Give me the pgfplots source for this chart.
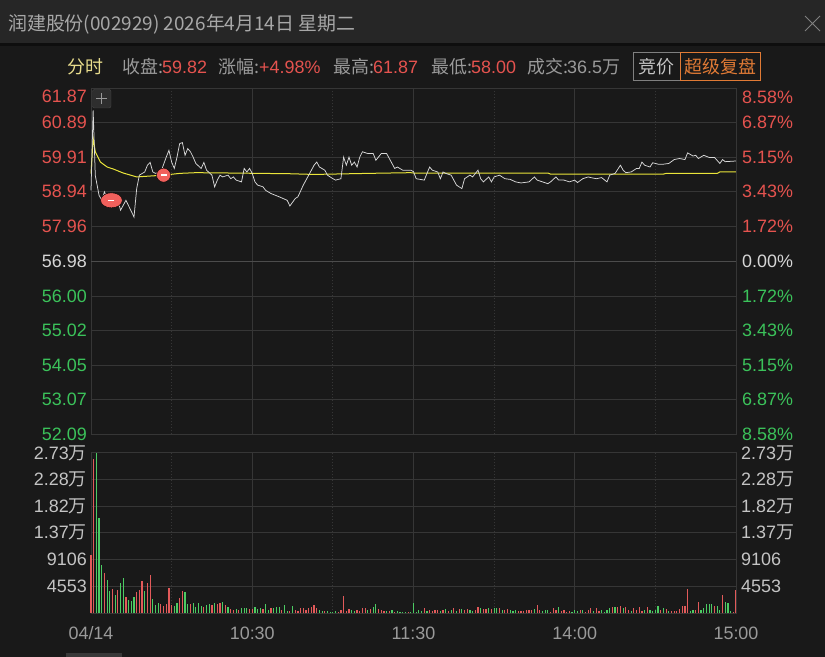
\documentclass[border=0pt]{standalone}
\usepackage{pgfplots}
\pgfplotsset{compat=1.18}
\usepackage{fontspec}
\setmainfont{Liberation Sans}
\newfontfamily\cjk{Noto Sans CJK SC}
\definecolor{bg}{HTML}{191919}
\definecolor{titlebg}{HTML}{262626}
\definecolor{sepc}{HTML}{0E0E0E}
\definecolor{gridc}{HTML}{363636}
\definecolor{gridb}{HTML}{4C4C4C}
\definecolor{upred}{HTML}{E5534F}
\definecolor{dngreen}{HTML}{3BC25A}
\definecolor{neutral}{HTML}{D6D6D6}
\definecolor{txtgray}{HTML}{9A9A9A}
\definecolor{titlegray}{HTML}{A8A8A8}
\definecolor{volgray}{HTML}{C4C4C4}
\definecolor{pricew}{HTML}{D8D8D8}
\definecolor{avgy}{HTML}{EAE53A}
\definecolor{barred}{HTML}{E25A5A}
\definecolor{bargreen}{HTML}{4CCB63}
\definecolor{fenshi}{HTML}{E8DC8C}
\definecolor{orangec}{HTML}{E07A35}
\definecolor{boxgray}{HTML}{808080}
\definecolor{mkred}{HTML}{F0605C}
\newcommand\fs{\fontsize{18}{20}\selectfont}
\newcommand\wan{{\cjk 万}}
\pgfplotsset{
  base/.style={scale only axis, width=645bp, xmin=0, xmax=240,
    axis line style={draw=gridc, line width=0.8bp},
    major tick length=0pt, tick style={draw=none},
    ticklabel style={font=\fs},
    scaled y ticks=false, scaled x ticks=false,
    grid style={draw=gridc, line width=0.8bp},
    clip=false},
  dots/.style={grid style={draw=gridc, line width=0.8bp, dash pattern=on 1bp off 2bp}},
}
\begin{document}
\begin{tikzpicture}
\fill[bg] (0bp,0bp) rectangle (825bp,657bp);
\useasboundingbox (0bp,0bp) rectangle (825bp,657bp);
\fill[titlebg] (0bp,614bp) rectangle (825bp,657bp);
\fill[sepc] (0bp,611bp) rectangle (825bp,614bp);
\node[anchor=west, inner sep=0pt, text=titlegray] at (8bp,633bp) {\cjk\fontsize{19}{21}\selectfont 润建股份(002929) 2026年4月14日 星期二};
\draw[boxgray, line width=1bp] (805bp,641bp) -- (820bp,626bp) (805bp,626bp) -- (820bp,641bp);
% header row
\begin{scope}[every node/.style={anchor=west, inner sep=0pt, font=\fs}]
\node[text=fenshi] at (67bp,590bp) {\cjk 分时};
\node[text=txtgray] at (122bp,590bp) {\cjk 收盘:};
\node[text=upred] at (162bp,590bp) {59.82};
\node[text=txtgray] at (218bp,590bp) {\cjk 涨幅:};
\node[text=upred] at (259bp,590bp) {+4.98\%};
\node[text=txtgray] at (333bp,590bp) {\cjk 最高:};
\node[text=upred] at (373bp,590bp) {61.87};
\node[text=txtgray] at (431bp,590bp) {\cjk 最低:};
\node[text=upred] at (471bp,590bp) {58.00};
\node[text=txtgray] at (527bp,590bp) {\cjk 成交:};
\node[text=txtgray] at (567bp,590bp) {36.5\wan};
\end{scope}
\draw[boxgray, line width=0.9bp] (633bp,577bp) rectangle (680bp,604.5bp);
\node[text=volgray, inner sep=0pt, font=\fs] at (656.5bp,590.5bp) {\cjk 竞价};
\draw[orangec, line width=0.9bp] (680bp,577bp) rectangle (760.5bp,604.5bp);
\node[text=orangec, inner sep=0pt, font=\fs] at (720.3bp,590.5bp) {\cjk 超级复盘};
% scrollbar
\fill[black!78] (66bp,0bp) rectangle (122bp,3.5bp);

% ===== price panel (left labels) =====
\begin{axis}[base, at={(91bp,222.5bp)}, anchor=south west, height=346.5bp,
  ymin=52.09, ymax=61.87,
  xtick={60,120,180}, xticklabels={},
  extra x ticks={30,90,150,210}, extra x tick labels={}, extra x tick style={dots},
  xmajorgrids, ymajorgrids,
  ytick={52.09,53.07,54.05,55.02,56.00,56.98,57.96,58.94,59.91,60.89},
  yticklabels={\textcolor{dngreen}{52.09},\textcolor{dngreen}{53.07},\textcolor{dngreen}{54.05},\textcolor{dngreen}{55.02},\textcolor{dngreen}{56.00},\textcolor{neutral}{56.98},\textcolor{upred}{57.96},\textcolor{upred}{58.94},\textcolor{upred}{59.91},\textcolor{upred}{60.89}},
  yticklabel style={inner sep=4bp},
  extra y ticks={61.87}, extra y tick labels={\textcolor{upred}{61.87}},
  extra y tick style={yticklabel style={yshift=-8.5bp}},
]
\addplot[gridb, line width=1bp] coordinates {(0,56.98) (240,56.98)};
\addplot[avgy, line width=1bp] coordinates {
(0,59.45) (0.8,60.45) (1.6,60.07) (3.5,59.78) (6,59.64) (8.4,59.58) (12,59.47) (17,59.36) (21,59.38) (27,59.41) (33,59.46) (39,59.48) (52,59.47) (74,59.45) (83,59.43) (103,59.46) (119,59.48) (120,59.47) (170,59.47) (171,59.44) (213,59.44) (214,59.46) (233,59.46) (234,59.50) (240,59.50)};
\addplot[pricew, line width=0.75bp] coordinates {
(0,58.98) (0.8,61.24) (1.6,59.40) (3,58.84) (4,58.70) (5,58.94) (6,58.75) (8,58.70) (10,58.70) (11,58.42) (12,58.56) (13,58.70) (16,58.23) (17,59.03) (18,59.41) (20,59.50) (21,59.69) (22,59.77) (23,59.50) (24,59.46) (26,59.50) (28,59.92) (29,60.11) (30,59.78) (31,59.60) (32,59.92) (33,60.30) (34,60.33) (35,59.97) (36,60.16) (37,60.07) (38,59.92) (39,59.74) (41,59.60) (42,59.77) (43,59.55) (45,59.41) (46,59.08) (47,59.27) (48,59.41) (49,59.36) (51,59.41) (52,59.31) (53,59.36) (54,59.27) (56,59.22) (57,59.60) (58,59.50) (59,59.60) (60,59.46) (61,59.22) (62,59.13) (64,59.08) (65,58.98) (67,58.89) (70,58.80) (73,58.70) (74,58.54) (76,58.75) (77,58.80) (79,59.13) (81,59.41) (83,59.69) (84,59.78) (85,59.64) (87,59.55) (88,59.41) (90,59.31) (91,59.27) (93,59.31) (94,59.92) (95,59.69) (96,59.92) (97,59.69) (98,59.78) (99,59.64) (100,59.92) (101,60.07) (103,60.02) (105,60.02) (106,59.83) (108,60.02) (110,60.02) (111,59.88) (112,59.74) (113,59.60) (114,59.64) (116,59.55) (119,59.55) (120,59.51)
(121,59.31) (124,59.27) (126,59.64) (127,59.55) (129,59.50) (130,59.31) (131,59.50) (132,59.46) (134,59.41) (136,59.13) (138,59.03) (139,59.31) (141,59.41) (142,59.36) (144,59.55) (145,59.31) (146,59.22) (148,59.36) (149,59.22) (150,59.36) (152,59.41) (154,59.31) (156,59.29) (158,59.22) (160,59.19) (163,59.22) (165,59.36) (166,59.27) (168,59.22) (170,59.17) (171,59.22) (173,59.36) (174,59.27) (176,59.27) (178,59.22) (180,59.27) (181,59.20) (183,59.31) (185,59.36) (186,59.34) (188,59.31) (190,59.34) (192,59.22) (193,59.41) (195,59.46) (197,59.69) (198,59.55) (199,59.48) (201,59.50) (203,59.60) (204,59.60) (205,59.78) (206,59.69) (208,59.64) (209,59.76) (211,59.72) (213,59.72) (215,59.74) (217,59.85) (219,59.88) (221,59.85) (222,60.04) (224,59.95) (225,59.97) (226,59.88) (228,59.97) (230,59.91) (232,59.91) (234,59.74) (235,59.85) (236,59.79) (240,59.81)};
\addplot[only marks, mark=*, mark size=7.5bp, mark options={xscale=1.45, yscale=1, fill=mkred, draw=none}] coordinates {(7.6,58.70)};
\addplot[only marks, mark=*, mark size=7bp, mark options={fill=mkred, draw=none}] coordinates {(27,59.41)};
\addplot[only marks, mark=-, mark size=3bp, mark options={draw=white, line width=1.5bp}] coordinates {(7.6,58.70) (27,59.41)};
\end{axis}
% crosshair box
\filldraw[fill=black!82, draw=white!20!bg, rounded corners=2bp] (92.5bp,549bp) rectangle (111bp,567.5bp);
\draw[txtgray, line width=0.9bp] (96bp,558.5bp) -- (107bp,558.5bp) (101.5bp,553bp) -- (101.5bp,564bp);

% ===== price panel (right labels) =====
\begin{axis}[base, at={(91bp,222.5bp)}, anchor=south west, height=346.5bp,
  ymin=52.09, ymax=61.87, axis x line=none, axis y line*=right,
  ytick={52.09,53.07,54.05,55.02,56.00,56.98,57.96,58.94,59.91,60.89},
  yticklabels={\textcolor{dngreen}{8.58\%},\textcolor{dngreen}{6.87\%},\textcolor{dngreen}{5.15\%},\textcolor{dngreen}{3.43\%},\textcolor{dngreen}{1.72\%},\textcolor{neutral}{0.00\%},\textcolor{upred}{1.72\%},\textcolor{upred}{3.43\%},\textcolor{upred}{5.15\%},\textcolor{upred}{6.87\%}},
  yticklabel style={inner sep=0pt, xshift=6bp},
  extra y ticks={61.87}, extra y tick labels={\textcolor{upred}{8.58\%}},
  extra y tick style={yticklabel style={yshift=-9.5bp}},
]
\addplot[draw=none] coordinates {(0,56.98) (240,56.98)};
\end{axis}

% ===== volume panel =====
\begin{axis}[base, at={(91bp,43.7bp)}, anchor=south west, height=161bp,
  ymin=0, ymax=27318,
  xtick={0,60,120,180,240}, xticklabels={04/14,10:30,11:30,14:00,15:00},
  xticklabel style={text=txtgray, inner sep=0pt, yshift=-13bp},
  extra x ticks={30,90,150,210}, extra x tick labels={}, extra x tick style={dots},
  xmajorgrids, ymajorgrids,
  ytick={4553,9106,13659,18212,22765},
  yticklabels={4553,9106,1.37\wan,1.82\wan,2.28\wan},
  yticklabel style={text=volgray, inner sep=4bp},
  extra y ticks={27318}, extra y tick labels={2.73\wan},
  extra y tick style={yticklabel style={yshift=-1bp}},
]
\addplot[ycomb, draw=barred, line width=1.15bp, mark=none] coordinates {
(0,9898) (1,26187) (5,6787) (8,4129) (10,3959) (13,2828) (17,3676) (18,3959) (19,5486) (21,5090) (22,6504) (26,1584) (27,1301) (28,1584) (29,4355) (30,1414) (33,2545) (34,3790) (37,1584) (42,1131) (45,1470) (47,1584) (48,1697) (50,1357) (52,679) (53,566) (55,566) (59,735) (60,679) (64,792) (67,848) (71,566) (74,452) (76,566) (77,452) (78,962) (79,848) (80,566) (81,905) (82,1131) (83,1414) (84,848) (87,452) (92,283) (93,566) (94,2941) (95,452) (96,735) (99,566) (100,452) (101,905) (102,905) (104,792) (107,735) (108,566) (109,452) (111,339) (113,283) (118,283)
(124,848) (126,566) (127,452) (128,566) (129,566) (131,566) (133,452) (135,848) (137,679) (139,566) (140,679) (143,566) (144,1131) (146,735) (147,679) (149,679) (152,848) (154,566) (155,679) (159,452) (160,396) (161,452) (162,566) (163,566) (164,566) (166,1414) (167,566) (171,283) (172,848) (173,566) (175,452) (176,566) (177,283) (178,452) (182,566) (184,283) (185,566) (186,848) (188,848) (189,396) (194,1131) (196,1018) (197,1244) (199,1131) (200,566) (202,848) (203,566) (204,1018) (205,452) (207,1018) (212,566) (214,679) (216,452) (217,452) (218,452) (219,679) (220,1244) (221,1244)
(222,4129) (225,566) (226,1867) (232,1244) (235,3111) (239,283) (240,3959)};
\addplot[ycomb, draw=bargreen, line width=1.15bp, mark=none] coordinates {
(2,27150) (3,16120) (4,8200) (6,5656) (7,3846) (9,3111) (11,5090) (12,6052) (14,2262) (15,2149) (16,2828) (20,3846) (23,2376) (24,1414) (25,1697) (31,1301) (32,1697) (35,3563) (36,1584) (38,1697) (39,1018) (40,1697) (41,1301) (43,1414) (44,1584) (46,1697) (49,1867) (51,1018) (54,679) (56,848) (57,848) (58,848) (61,1018) (62,679) (63,962) (65,1527) (66,566) (68,962) (69,1018) (70,1131) (72,1357) (73,396) (75,1244) (85,566) (86,452) (88,452) (89,283) (90,283) (91,396) (97,566) (98,452) (103,566) (105,1018) (106,1584) (110,396) (112,566) (114,339) (115,283) (116,226) (117,226) (119,226)
(120,1697) (121,283) (122,566) (123,396) (125,452) (130,452) (132,735) (134,566) (136,396) (138,735) (141,566) (142,396) (145,848) (148,848) (150,848) (151,962) (153,566) (156,566) (157,452) (158,566) (165,679) (168,452) (169,566) (170,566) (174,1018) (179,283) (180,566) (181,452) (183,566) (187,452) (190,566) (191,283) (192,566) (193,848) (195,1131) (198,848) (201,452) (206,566) (208,566) (209,452) (210,566) (211,1244) (213,848) (215,452)
(223,452) (224,566) (227,566) (228,848) (229,1527) (230,1527) (231,1527) (233,1244) (234,566) (236,1867) (237,1697) (238,396)};
\end{axis}
\begin{axis}[base, at={(91bp,43.7bp)}, anchor=south west, height=161bp,
  ymin=0, ymax=27318, axis x line=none, axis y line*=right,
  ytick={4553,9106,13659,18212,22765},
  yticklabels={4553,9106,1.37\wan,1.82\wan,2.28\wan},
  yticklabel style={text=volgray, inner sep=0pt, xshift=5bp},
  extra y ticks={27318}, extra y tick labels={2.73\wan},
  extra y tick style={yticklabel style={yshift=-1bp}},
]
\addplot[draw=none] coordinates {(0,0) (240,0)};
\end{axis}
\end{tikzpicture}
\end{document}
